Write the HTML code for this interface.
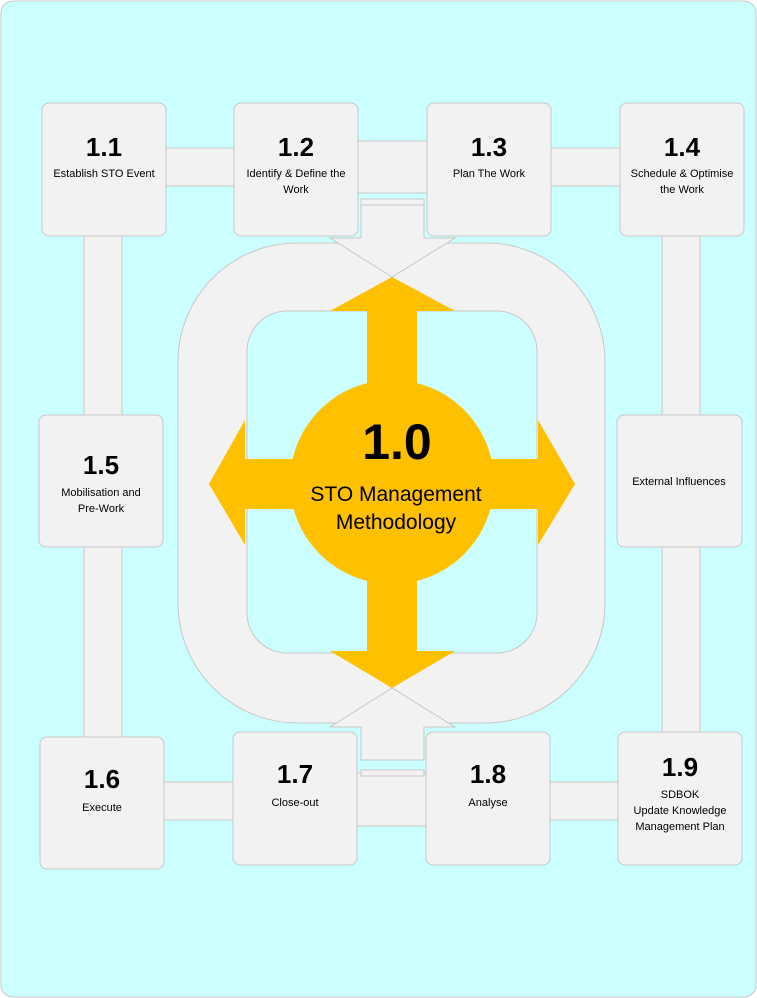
<!DOCTYPE html>
<html><head><meta charset="utf-8"><style>
html,body{margin:0;padding:0;background:#fff}
svg{display:block}
text{font-family:"Liberation Sans",sans-serif;fill:#000}
</style></head><body>
<svg width="757" height="998" viewBox="0 0 757 998" xmlns="http://www.w3.org/2000/svg">
<rect x="1" y="1" width="755" height="996" rx="12" fill="#ccffff" stroke="#c8c8c8"/>
<g fill="#f2f2f2" stroke="#c8c8c8" stroke-width="1">
<!-- connector bars -->
<rect x="160" y="148" width="80" height="38"/>
<rect x="352" y="141" width="80" height="52"/>
<rect x="545" y="148" width="80" height="38"/>
<rect x="84" y="230" width="38" height="190"/>
<rect x="84" y="541" width="38" height="200"/>
<rect x="662" y="230" width="38" height="190"/>
<rect x="662" y="541" width="38" height="196"/>
<rect x="158" y="782" width="80" height="38"/>
<rect x="351" y="773" width="80" height="53"/>
<rect x="544" y="782" width="80" height="38"/>
<!-- loop -->
<path fill-rule="evenodd" d="M298 243 H486 A119 119 0 0 1 605 362 V603 A120 120 0 0 1 485 723 H298 A120 120 0 0 1 178 603 V362 A119 119 0 0 1 298 243 Z M287 311 H497 A40 40 0 0 1 537 351 V613 A40 40 0 0 1 497 653 H287 A40 40 0 0 1 247 613 V351 A40 40 0 0 1 287 311 Z"/>
<path d="M361 205 H424 V238 H455 L392 277 L330 238 H361 Z"/>
<path d="M361 760 H424 V727 H455 L392 688 L330 727 H361 Z"/>
<rect x="361" y="199" width="63" height="6"/>
<rect x="361" y="770" width="63" height="6"/>
<!-- boxes -->
<rect x="42" y="103" width="124" height="133" rx="7"/>
<rect x="234" y="103" width="124" height="133" rx="7"/>
<rect x="427" y="103" width="124" height="133" rx="7"/>
<rect x="620" y="103" width="124" height="133" rx="7"/>
<rect x="39" y="415" width="124" height="132" rx="7"/>
<rect x="617" y="415" width="125" height="132" rx="7"/>
<rect x="40" y="737" width="124" height="132" rx="7"/>
<rect x="233" y="732" width="124" height="133" rx="7"/>
<rect x="426" y="732" width="124" height="133" rx="7"/>
<rect x="618" y="732" width="124" height="133" rx="7"/>
</g>
<!-- orange -->
<g fill="#ffc000">
<path d="M392 277 L455 311 H417 V400 H367 V311 H330 Z"/>
<path d="M392 688 L455 651 H417 V560 H367 V651 H330 Z"/>
<path d="M209 484 L245 420 V459 H320 V509 H245 V545 Z"/>
<path d="M575 484 L538 420 V459 H460 V509 H538 V545 Z"/>
<circle cx="392" cy="482" r="102"/>
</g>
<text x="397" y="459" font-size="50" font-weight="bold" text-anchor="middle">1.0</text>
<text x="396" y="501" font-size="21" text-anchor="middle">STO Management</text>
<text x="396" y="529" font-size="21" text-anchor="middle">Methodology</text>
<g font-size="26" font-weight="bold" text-anchor="middle">
<text x="104" y="156">1.1</text>
<text x="296" y="156">1.2</text>
<text x="489" y="156">1.3</text>
<text x="682" y="156">1.4</text>
<text x="101" y="474">1.5</text>
<text x="102" y="788">1.6</text>
<text x="295" y="783">1.7</text>
<text x="488" y="783">1.8</text>
<text x="680" y="776">1.9</text>
</g>
<g font-size="11" text-anchor="middle">
<text x="104" y="177">Establish STO Event</text>
<text x="296" y="177">Identify &amp; Define the</text>
<text x="296" y="193">Work</text>
<text x="489" y="177">Plan The Work</text>
<text x="682" y="177">Schedule &amp; Optimise</text>
<text x="682" y="193">the Work</text>
<text x="101" y="496">Mobilisation and</text>
<text x="101" y="512">Pre-Work</text>
<text x="679" y="485">External Influences</text>
<text x="102" y="811">Execute</text>
<text x="295" y="806">Close-out</text>
<text x="488" y="806">Analyse</text>
<text x="680" y="798">SDBOK</text>
<text x="680" y="814">Update Knowledge</text>
<text x="680" y="830">Management Plan</text>
</g>
</svg>
</body></html>
